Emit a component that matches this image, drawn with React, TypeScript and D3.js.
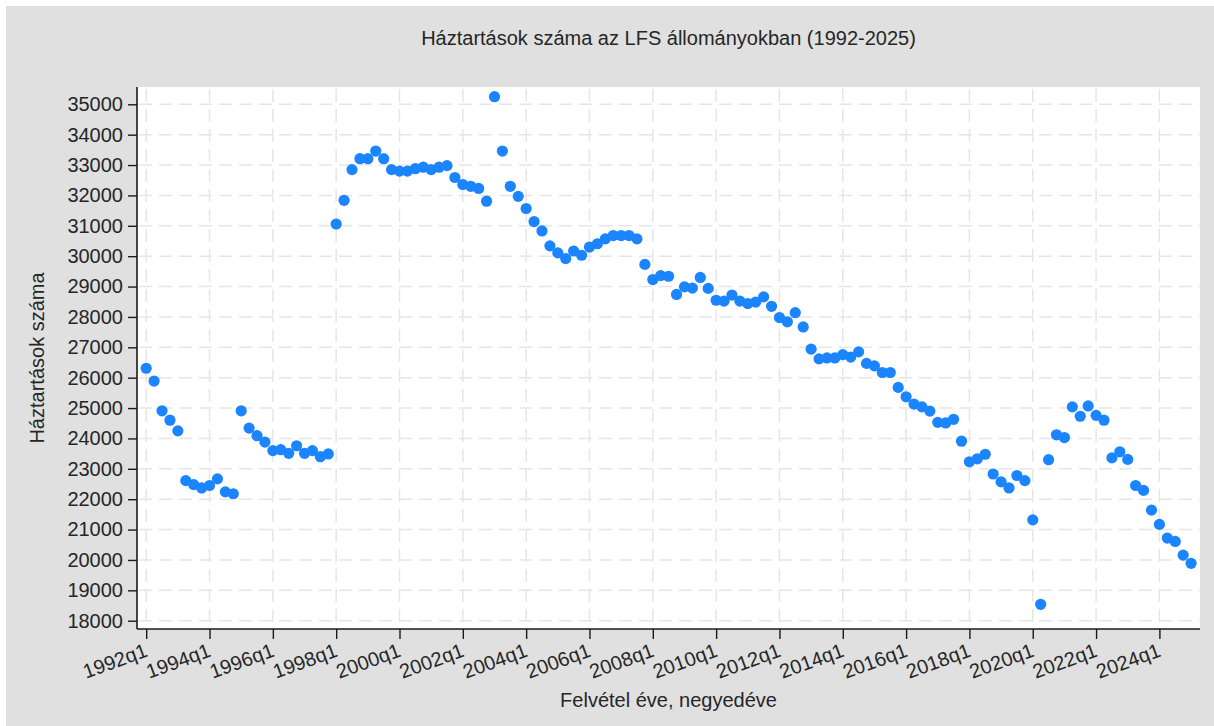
import React, { useEffect, useRef } from 'react';
import { select, scaleLinear, axisLeft, axisBottom, range } from 'd3';

// háztartások száma negyedévenként, 1992q1 -> 2025q1
const startYear = 1992;
const households = [
  26310, 25890, 24910, 24600, 24250, 22610, 22480, 22370, 22450, 22670, 22240, 22180,
  24910, 24340, 24090, 23880, 23600, 23630, 23510, 23760, 23510, 23600, 23400, 23490,
  31060, 31840, 32850, 33210, 33210, 33460, 33210, 32850,
  32800, 32800, 32880, 32930, 32850, 32930, 32980, 32590,
  32360, 32300, 32230, 31810, 35250, 33460, 32300, 31970,
  31570, 31140, 30830, 30340, 30110, 29920, 30170, 30030,
  30300, 30410, 30570, 30680, 30680, 30680, 30570, 29730,
  29230, 29360, 29340, 28740, 28990, 28950, 29300, 28940,
  28550, 28520, 28720, 28520, 28440, 28490, 28660, 28350,
  27980, 27840, 28140, 27670, 26940, 26620, 26650, 26650,
  26760, 26680, 26850, 26470, 26390, 26170, 26170, 25680,
  25370, 25130, 25040, 24900, 24530, 24510, 24630, 23910,
  23230, 23330, 23480, 22830, 22570, 22370, 22780, 22610,
  21320, 18540, 23300, 24120, 24030, 25040, 24730, 25070,
  24760, 24600, 23360, 23560, 23310, 22450, 22290, 21640,
  21170, 20720, 20610, 20160, 19890
];
const xTickLabels = [
  '1992q1', '1994q1', '1996q1', '1998q1', '2000q1', '2002q1', '2004q1', '2006q1', '2008q1',
  '2010q1', '2012q1', '2014q1', '2016q1', '2018q1', '2020q1', '2022q1', '2024q1'
];
const yTicks = range(18000, 35001, 1000);

const title = 'Háztartások száma az LFS állományokban (1992-2025)';
const xTitle = 'Felvétel éve, negyedéve';
const yTitle = 'Háztartások száma';

const W = 1214;
const H = 726;
const plot = { left: 137, top: 87, right: 1200, bottom: 629 };
const font = '"Liberation Sans", Arial, sans-serif';
const textColor = '#262626';

// "1994q1" -> negyedév sorszáma 1992q1-től
const labelToIndex = (s: string) => (+s.slice(0, 4) - startYear) * 4 + (+s.slice(5) - 1);

export default function App() {
  const ref = useRef<SVGSVGElement>(null);

  useEffect(() => {
    const svg = select(ref.current);
    svg.selectAll('*').remove();

    const x = scaleLinear().domain([0, 128]).range([146.2, 1159.4]);
    const y = scaleLinear().domain([18000, 35000]).range([620.7, 104.3]);

    // background //
    svg.append('rect').attr('x', 6).attr('y', 6).attr('width', W - 6).attr('height', H - 6).attr('fill', '#e0e0e0');
    svg.append('rect')
      .attr('x', plot.left).attr('y', plot.top)
      .attr('width', plot.right - plot.left).attr('height', plot.bottom - plot.top)
      .attr('fill', '#ffffff');

    // grid //
    const grid = svg.append('g').attr('stroke', '#e6e6e6').attr('stroke-width', 1.5).attr('stroke-dasharray', '13,7');
    grid.selectAll('line.h')
      .data(yTicks)
      .enter()
      .append('line')
      .attr('class', 'h')
      .attr('x1', plot.left + 2).attr('x2', plot.right)
      .attr('y1', d => y(d)).attr('y2', d => y(d));
    grid.selectAll('line.v')
      .data(xTickLabels)
      .enter()
      .append('line')
      .attr('class', 'v')
      .attr('x1', d => x(labelToIndex(d))).attr('x2', d => x(labelToIndex(d)))
      .attr('y1', plot.top + 2).attr('y2', plot.bottom);

    // points //
    svg.append('g')
      .selectAll('circle')
      .data(households)
      .enter()
      .append('circle')
      .attr('cx', (d, i) => x(i))
      .attr('cy', d => y(d))
      .attr('r', 5.6)
      .attr('fill', '#1a85ff');

    // axes //
    const yAxis = axisLeft(y).tickValues(yTicks).tickSize(9).tickSizeOuter(0).tickPadding(5).tickFormat(d => String(d));
    const yG = svg.append('g').attr('transform', `translate(${plot.left}, 0)`).call(yAxis);
    yG.select('.domain').attr('d', `M0,${plot.top}V${plot.bottom}`).attr('stroke', '#1a1a1a').attr('stroke-width', 1.6);
    yG.selectAll('line').attr('stroke', '#1a1a1a').attr('stroke-width', 1.4);
    yG.selectAll('text').attr('font-family', font).attr('font-size', 20).attr('fill', textColor);

    const xAxis = axisBottom(x)
      .tickValues(xTickLabels.map(labelToIndex))
      .tickSize(10)
      .tickSizeOuter(0)
      .tickFormat((d, i) => xTickLabels[i]);
    const xG = svg.append('g').attr('transform', `translate(0, ${plot.bottom})`).call(xAxis);
    xG.select('.domain').attr('d', `M${plot.left},0H${plot.right}`).attr('stroke', '#1a1a1a').attr('stroke-width', 1.6);
    xG.selectAll('line').attr('stroke', '#1a1a1a').attr('stroke-width', 1.4);
    xG.selectAll('text')
      .attr('font-family', font)
      .attr('font-size', 20)
      .attr('fill', textColor)
      .attr('text-anchor', 'end')
      .attr('dy', null)
      .attr('y', null)
      .attr('transform', 'translate(2, 27) rotate(-20)');

    // titles //
    svg.append('text')
      .attr('x', (plot.left + plot.right) / 2).attr('y', 45)
      .attr('text-anchor', 'middle')
      .attr('font-family', font).attr('font-size', 20).attr('fill', textColor)
      .text(title);
    svg.append('text')
      .attr('x', (plot.left + plot.right) / 2).attr('y', 707)
      .attr('text-anchor', 'middle')
      .attr('font-family', font).attr('font-size', 20).attr('fill', textColor)
      .text(xTitle);
    svg.append('text')
      .attr('transform', `translate(44, ${(plot.top + plot.bottom) / 2}) rotate(-90)`)
      .attr('text-anchor', 'middle')
      .attr('font-family', font).attr('font-size', 20).attr('fill', textColor)
      .text(yTitle);
  }, []);

  return (
    <svg
      ref={ref}
      width={W}
      height={H}
      style={{ position: 'absolute', left: 0, top: 0, background: '#ffffff' }}
    />
  );
}
